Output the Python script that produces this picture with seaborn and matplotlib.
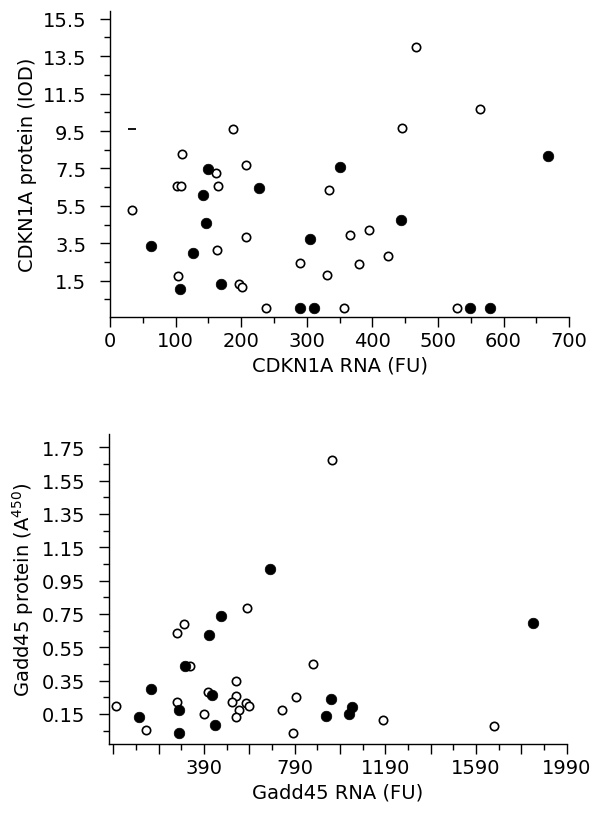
import numpy as np
import pandas as pd
import matplotlib
matplotlib.use("Agg")
from matplotlib import pyplot as plt
from matplotlib.ticker import MultipleLocator, FixedLocator
import seaborn as sns

# CDKN1A panel (x = RNA in FU, y = protein in IOD)
cdkn_open_x = [33, 104, 102, 108, 110, 162, 165, 163, 188, 208, 208, 196, 202, 238,
               289, 467, 564, 445, 334, 366, 395, 424, 380, 331, 357, 529]
cdkn_open_y = [5.3, 1.77, 6.55, 6.55, 8.25, 7.25, 6.55, 3.14, 9.63, 7.67, 3.84, 1.34, 1.18, 0.05,
               2.46, 13.98, 10.69, 9.65, 6.36, 3.95, 4.2, 2.81, 2.37, 1.78, 0.05, 0.05]
cdkn_fill_x = [62, 107, 126, 142, 147, 149, 169, 228, 289, 311, 350, 305, 444, 668, 549, 580]
cdkn_fill_y = [3.36, 1.07, 3.0, 6.07, 4.6, 7.46, 1.3, 6.45, 0.05, 0.05, 7.56, 3.72, 4.76, 8.19, 0.05, 0.05]
cdkn_dash_x = [33]
cdkn_dash_y = [9.6]

# Gadd45 panel (x = RNA in FU, y = protein A450)
gadd_open_x = [2, 133, 269, 300, 269, 329, 390, 407, 531, 531, 514, 543, 531, 578, 576, 589,
               736, 797, 783, 954, 873, 1181, 1671]
gadd_open_y = [0.20, 0.055, 0.638, 0.69, 0.224, 0.44, 0.15, 0.28, 0.345, 0.257, 0.224, 0.176,
               0.134, 0.787, 0.216, 0.20, 0.176, 0.254, 0.034, 1.676, 0.447, 0.114, 0.08]
gadd_fill_x = [103, 157, 280, 280, 307, 410, 424, 437, 465, 681, 1839, 951, 928, 1041, 1030]
gadd_fill_y = [0.134, 0.30, 0.174, 0.034, 0.44, 0.626, 0.264, 0.084, 0.74, 1.02, 0.696,
               0.24, 0.14, 0.194, 0.15]

cdkn_yticks = [1.5, 3.5, 5.5, 7.5, 9.5, 11.5, 13.5, 15.5]
cdkn_xticks = [0, 100, 200, 300, 400, 500, 600, 700]
gadd_yticks = [0.15, 0.35, 0.55, 0.75, 0.95, 1.15, 1.35, 1.55, 1.75]
gadd_xlabels = [390, 790, 1190, 1590, 1990]

sns.set_style("ticks")
plt.rcParams['font.family'] = ['DejaVu Sans']
plt.rcParams['mathtext.default'] = 'regular'
plt.rcParams['text.color'] = 'black'
plt.rcParams['axes.labelcolor'] = 'black'
plt.rcParams['xtick.color'] = 'black'
plt.rcParams['ytick.color'] = 'black'
FS = 14

fig = plt.figure(figsize=(5.91, 8.2), dpi=100)
ax1 = fig.add_axes([0.186, 0.612, 0.777, 0.373])
ax2 = fig.add_axes([0.184, 0.0915, 0.775, 0.378])


def draw(ax, ox, oy, fx, fy):
    sns.scatterplot(x=ox, y=oy, ax=ax, color='white', edgecolor='black',
                    linewidth=1.2, s=36, zorder=3)
    sns.scatterplot(x=fx, y=fy, ax=ax, color='black', edgecolor='black',
                    linewidth=0.5, s=58, zorder=4)


#top panel
draw(ax1, cdkn_open_x, cdkn_open_y, cdkn_fill_x, cdkn_fill_y)
sns.scatterplot(x=cdkn_dash_x, y=cdkn_dash_y, ax=ax1, marker='_', color='black',
                s=40, linewidth=1.3)
ax1.set_xlim(0, 700)
ax1.set_ylim(-0.45, 15.9)
ax1.xaxis.set_major_locator(FixedLocator(cdkn_xticks))
ax1.xaxis.set_minor_locator(MultipleLocator(50))
ax1.yaxis.set_major_locator(FixedLocator(cdkn_yticks))
ax1.yaxis.set_minor_locator(FixedLocator([0.5, 2.5, 4.5, 6.5, 8.5, 10.5, 12.5, 14.5]))
ax1.set_xlabel('CDKN1A RNA (FU)', fontsize=FS)
ax1.set_ylabel('CDKN1A protein (IOD)', fontsize=FS, labelpad=4)

#bottom panel
draw(ax2, gadd_open_x, gadd_open_y, gadd_fill_x, gadd_fill_y)
ax2.set_xlim(-30, 1990)
ax2.set_ylim(-0.03, 1.83)
ax2.xaxis.set_major_locator(FixedLocator(np.arange(-10, 2000, 200)))
ax2.xaxis.set_minor_locator(FixedLocator(np.arange(90, 2000, 200)))
ax2.set_xticklabels([str(v) if v in gadd_xlabels else '' for v in np.arange(-10, 2000, 200)])
ax2.yaxis.set_major_locator(FixedLocator(gadd_yticks))
ax2.yaxis.set_minor_locator(FixedLocator([0.05, 0.25, 0.45, 0.65, 0.85, 1.05, 1.25, 1.45, 1.65]))
ax2.set_xlabel('Gadd45 RNA (FU)', fontsize=FS)
ax2.set_ylabel('Gadd45 protein (A$^{450}$)', fontsize=FS, labelpad=4)

for ax in (ax1, ax2):
    sns.despine(ax=ax)
    ax.tick_params(axis='both', which='major', direction='out', length=7, width=1,
                   labelsize=FS, color='black', labelcolor='black')
    ax.tick_params(axis='both', which='minor', direction='out', length=4, width=1,
                   color='black')
    ax.tick_params(axis='y', which='major', pad=10)
    ax.tick_params(axis='x', which='major', pad=3)
    for sp in ax.spines.values():
        sp.set_color('black')
        sp.set_linewidth(1)

fig.savefig('out.png', dpi=100)
